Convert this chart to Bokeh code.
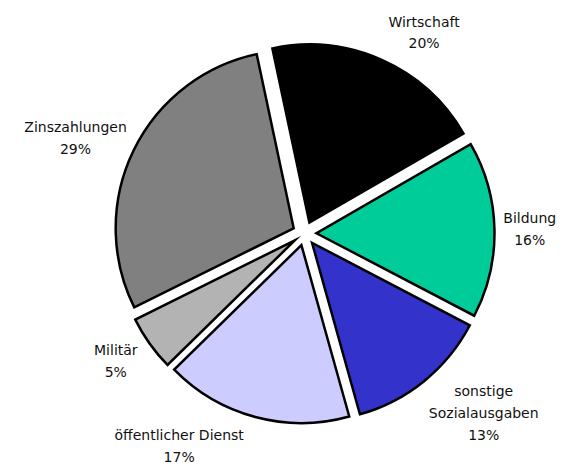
import math
from bokeh.plotting import figure
from bokeh.models import ColumnDataSource, Range1d
from bokeh.core.properties import value
from bokeh.embed import file_html
from bokeh.resources import INLINE

# ---- data ----
categories = ["Wirtschaft", "Bildung", "sonstige\nSozialausgaben",
              "öffentlicher Dienst", "Militär", "Zinszahlungen"]
shares = [20, 16, 13, 17, 5, 29]
colors = ["#000000", "#00CC99", "#3333CC", "#CCCCFF", "#B3B3B3", "#808080"]

# ---- layout ----
W, H = 563, 468
cx, cy = 304, H - 233
R = 178
explode = 12
start_deg = 102.0
label_r = 198
char_w = 7.8
line_h = 22

xs, ys, sa, ea, lx, ly, ltxt = [], [], [], [], [], [], []
total = float(sum(shares))
a = start_deg
for cat, v in zip(categories, shares):
    span = 360.0 * v / total
    a0, a1 = a, a - span
    mid = math.radians((a0 + a1) / 2)
    c, s = math.cos(mid), math.sin(mid)
    xs.append(cx + explode * c)
    ys.append(cy + explode * s)
    sa.append(math.radians(a1))
    ea.append(math.radians(a0))
    txt = f"{cat}\n{round(100 * v / total)}%"
    lines = txt.split("\n")
    w = max(len(l) for l in lines) * char_w
    h = len(lines) * line_h
    ax_, ay_ = cx + label_r * c, cy + label_r * s
    lx.append(ax_ + (w / 2 if c >= 0 else -w / 2))
    ly.append(ay_ + h * s / 2)
    ltxt.append(txt)
    a = a1

src = ColumnDataSource(dict(x=xs, y=ys, start=sa, end=ea, color=colors))
lsrc = ColumnDataSource(dict(x=lx, y=ly, text=ltxt))

p = figure(width=W, height=H, x_range=Range1d(0, W), y_range=Range1d(0, H),
           output_backend="svg", toolbar_location=None,
           x_axis_location=None, y_axis_location=None, min_border=0)
p.grid.visible = False
p.outline_line_color = None
p.background_fill_color = "white"
p.border_fill_color = "white"

p.wedge(x="x", y="y", radius=R, start_angle="start", end_angle="end",
        direction="anticlock", fill_color="color", line_color="black",
        line_width=2.5, line_join="miter", source=src)

p.text(x="x", y="y", text="text", source=lsrc, text_align="center",
       text_baseline="middle", text_font=value("DejaVu Sans"),
       text_font_size="14px", text_color="#111111", text_line_height=1.35)

open("out.html", "w").write(file_html(p, INLINE))
